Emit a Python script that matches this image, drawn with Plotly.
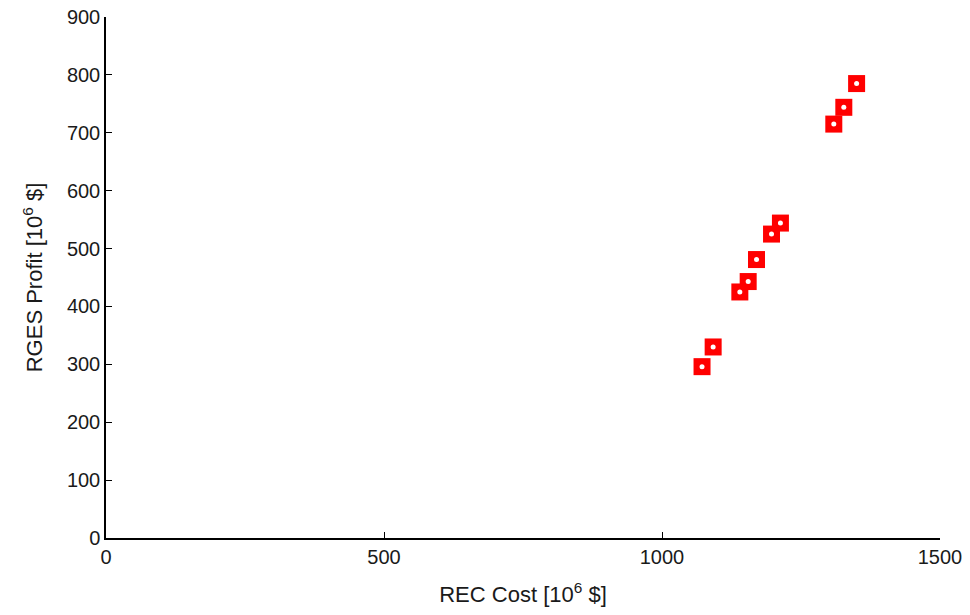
import plotly.graph_objects as go

rec_cost = [1072, 1092, 1140, 1155, 1170, 1197, 1213, 1309, 1327, 1350]
rges_profit = [296, 330, 425, 443, 481, 525, 544, 715, 744, 785]

x_ticks = [0, 500, 1000, 1500]
y_ticks = [0, 100, 200, 300, 400, 500, 600, 700, 800, 900]

fig = go.Figure()
fig.add_trace(go.Scatter(
    x=rec_cost, y=rges_profit, mode="markers",
    marker=dict(symbol="square", size=17, color="#ff0000", line=dict(width=0)),
    showlegend=False, hoverinfo="x+y"))
fig.add_trace(go.Scatter(
    x=rec_cost, y=rges_profit, mode="markers",
    marker=dict(symbol="circle", size=5, color="white", line=dict(width=0)),
    showlegend=False, hoverinfo="skip"))

font_family = "Liberation Sans, Arial, sans-serif"
fig.update_layout(
    width=970, height=615,
    margin=dict(l=106, r=30, t=17, b=77, autoexpand=False),
    paper_bgcolor="white", plot_bgcolor="white",
    font=dict(family=font_family, color="#1a1a1a", size=20),
    xaxis=dict(
        range=[0, 1500], tickvals=x_ticks, ticks="inside", ticklen=6,
        tickcolor="black", showline=True, linecolor="black", linewidth=1.5,
        showgrid=False, zeroline=False, automargin=False,
        title=dict(text="REC Cost [10<sup>6</sup> $]", font=dict(size=22), standoff=20),
    ),
    yaxis=dict(
        range=[0, 900], tickvals=y_ticks, ticks="inside", ticklen=6,
        tickcolor="black", showline=True, linecolor="black", linewidth=1.5,
        showgrid=False, zeroline=False, automargin=False,
        title=dict(text="RGES Profit [10<sup>6</sup> $]", font=dict(size=22), standoff=18),
    ),
)

fig.write_html("out.html")
